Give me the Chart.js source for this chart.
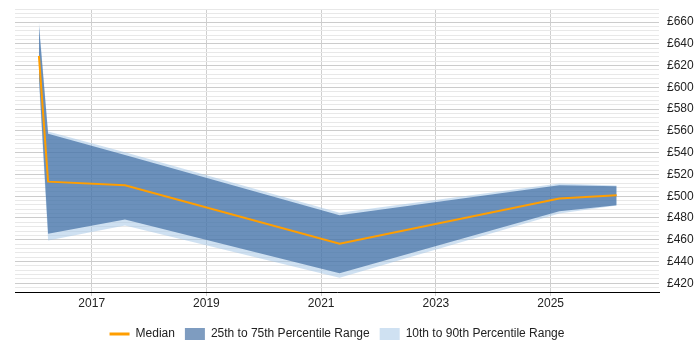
<!DOCTYPE html>
<html><head><meta charset="utf-8">
<script src="https://cdn.jsdelivr.net/npm/chart.js@4"></script>
<style>html,body{margin:0;padding:0;background:#fff}#wrap{width:700px;height:350px;position:relative}</style>
</head><body><div id="wrap"><canvas id="c"></canvas></div>
<script>
// Data (fractional years, £ values)
const years  = [2016.08, 2016.24, 2017.58, 2021.32, 2025.15, 2026.15];
const median = [629, 513.4, 510.0, 456.4, 497.9, 500.9];
const p25    = [610, 465.5, 478.6, 429.2, 486.2, 491.7];
const p75    = [657, 557.4, 537.8, 482.6, 510.0, 509.1];
const p10    = [605, 459.4, 473.1, 425.2, 484.1, 491.4];
const p90    = [660.3, 559.5, 540.5, 484.8, 511.6, 509.8];
const xTicks = [2017, 2019, 2021, 2023, 2025];
const labels = ['Median', '25th to 75th Percentile Range', '10th to 90th Percentile Range'];

const pts = arr => arr.map((v, i) => ({x: years[i], y: v}));
const ORANGE = '#ff9e00';
const DARK = 'rgba(40,90,150,0.6)';
const LIGHT = 'rgba(160,195,230,0.5)';

Chart.defaults.font.family = 'Arial, "Liberation Sans", sans-serif';
Chart.defaults.font.size = 12;
Chart.defaults.color = '#222';

const band = (label, data, fill, color) => ({
  label, data: pts(data), fill, backgroundColor: color,
  borderColor: 'rgba(0,0,0,0)', borderWidth: 0,
  pointRadius: 0, pointHoverRadius: 0, pointBorderWidth: 0,
  pointStyle: 'rect', tension: 0
});

new Chart(document.getElementById('c'), {
  type: 'line',
  data: {
    datasets: [
      {label: labels[0], data: pts(median), borderColor: ORANGE, backgroundColor: ORANGE,
       borderWidth: 2, pointRadius: 0, pointHoverRadius: 0, pointStyle: 'line', fill: false, tension: 0},
      band(labels[1], p75, '+1', DARK),
      band('', p25, false, DARK),
      band(labels[2], p90, '+1', LIGHT),
      band('', p10, false, LIGHT)
    ]
  },
  options: {
    responsive: true,
    maintainAspectRatio: false,
    animation: false,
    devicePixelRatio: 1,
    layout: {padding: {left: 15, right: 0, top: 9, bottom: 0}},
    plugins: {
      tooltip: {enabled: false},
      legend: {
        position: 'bottom',
        fullSize: false,
        labels: {
          usePointStyle: true, pointStyleWidth: 20, boxWidth: 20, boxHeight: 12, padding: 10,
          filter: item => item.text !== '',
          generateLabels(chart) {
            const items = Chart.defaults.plugins.legend.labels.generateLabels(chart);
            items.forEach(it => {
              if (it.datasetIndex === 0) { it.lineWidth = 3; it.strokeStyle = ORANGE; }
              else { it.lineWidth = 0; }
            });
            return items;
          }
        }
      }
    },
    scales: {
      x: {
        type: 'linear', position: 'bottom',
        min: 2015.663, max: 2026.888,
        afterBuildTicks: s => { s.ticks = xTicks.map(v => ({value: v})); },
        afterFit: s => { s.height = 26; },
        ticks: {callback: v => String(v), autoSkip: false, maxRotation: 0, padding: 0},
        grid: {color: '#cfcfcf', tickLength: 4},
        border: {color: '#000', width: 1}
      },
      y: {
        position: 'right',
        min: 412, max: 672,
        afterFit: s => { s.width = 41; s.paddingTop = 0; s.paddingBottom = 0; },
        ticks: {stepSize: 4, autoSkip: false, padding: 8,
                callback: v => (v % 20 === 0 ? '£' + v : '')},
        grid: {drawTicks: false,
               color: ctx => (ctx.tick && ctx.tick.value % 20 === 0 ? '#cccccc' : '#e8e8e8')},
        border: {display: false}
      }
    }
  }
});
</script>
</body></html>
